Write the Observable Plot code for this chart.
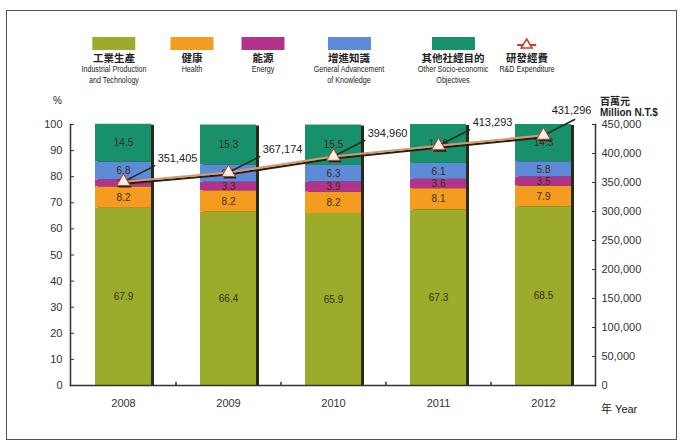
<!DOCTYPE html>
<html><head><meta charset="utf-8">
<script src="https://cdn.jsdelivr.net/npm/d3@7"></script>
<script src="https://cdn.jsdelivr.net/npm/@observablehq/plot@0.6"></script>
<style>
body{margin:0;background:#fff;font-family:"Liberation Sans",Arial,sans-serif;color:#222}
#wrap{position:relative;width:682px;height:442px;overflow:hidden;background:#fff}
#border{position:absolute;left:6px;top:10px;width:669px;height:428px;border:1px solid #555;}
.leg{position:absolute;top:37px;text-align:center;transform:translateX(-50%);}
.sw{width:43px;height:13px;margin:0 auto;display:block}
.zh{font-family:"Noto Sans CJK TC","Noto Sans CJK SC",sans-serif;font-weight:bold;font-size:10.5px;line-height:12px;margin-top:2px;color:#222}
.en{font-family:"Liberation Sans",sans-serif;font-size:8.5px;line-height:11px;color:#222;white-space:nowrap;transform:scaleX(0.84);}
.abs{position:absolute;font-size:10px;color:#222;white-space:nowrap}
#chart{position:absolute;left:0;top:95px}
</style></head>
<body><div id="wrap"><div id="border"></div><div id="legend"></div><div id="chart"></div>
<div class="abs" style="left:53px;top:95px;">%</div>
<div class="abs" style="left:600px;top:93px;font-family:'Noto Sans CJK TC';font-weight:bold;">百萬元</div>
<div class="abs" style="left:600px;top:107px;font-weight:bold;">Million N.T.$</div>
<div class="abs" style="left:601px;top:400px;font-size:11px;"><span style="font-family:'Noto Sans CJK TC'">年</span> Year</div>
</div>
<script>
const years = ["2008","2009","2010","2011","2012"];
const seriesNames = ["Industrial Production and Technology","Health","Energy","General Advancement of Knowledge","Other Socio-economic Objectives"];
const seriesZh = ["工業生產","健康","能源","增進知識","其他社經目的"];
const seriesEn = [["Industrial Production","and Technology"],["Health"],["Energy"],["General Advancement","of Knowledge"],["Other Socio-economic","Objectives"]];
const seriesColors = ["#9dab2c","#f39c1f","#b3338c","#5d8bd8","#17906b"];
const industrial = [67.9,66.4,65.9,67.3,68.5];
const health = [8.2,8.2,8.2,8.1,7.9];
const energy = [2.7,3.3,3.9,3.6,3.5];
const knowledge = [6.8,6.6,6.3,6.1,5.8];
const other = [14.5,15.3,15.5,14.9,14.3];
const expenditure = [351405,367174,394960,413293,431296];
const rdName = ["研發經費","R&D Expenditure"];
const rightTicks = [0,50000,100000,150000,200000,250000,300000,350000,400000,450000];
const leftTicks = [0,10,20,30,40,50,60,70,80,90,100];

const seriesValues = [industrial, health, energy, knowledge, other];
const k = 100/450000;
const rows = years.flatMap((yr,i)=>seriesNames.map((s,j)=>({year:yr, series:s, value:seriesValues[j][i]})));
const totals = years.map((yr,i)=>({year:yr, total:d3.sum(seriesValues, s=>s[i])}));
const lineData = years.map((yr,i)=>({year:yr, exp:expenditure[i]}));

// legend
const legendX = [114,192,263,349,453,527];
const leg = document.getElementById("legend");
seriesNames.forEach((s,j)=>{
  const el = document.createElement("div");
  el.className="leg"; el.style.left=legendX[j]+"px";
  el.innerHTML = `<div class="sw" style="background:${seriesColors[j]}"></div><div class="zh">${seriesZh[j]}</div>` + seriesEn[j].map(t=>`<div class="en">${t}</div>`).join("");
  leg.appendChild(el);
});
{
  const el = document.createElement("div");
  el.className="leg"; el.style.left=legendX[5]+"px";
  el.innerHTML = `<svg class="sw" width="43" height="13"><line x1="12" x2="31" y1="8" y2="8" stroke="#c8402c" stroke-width="2"/><path d="M21.5,2 L27,11 L16,11 Z" fill="#fff" stroke="#c8402c" stroke-width="1.5"/></svg><div class="zh">${rdName[0]}</div><div class="en">${rdName[1]}</div>`;
  leg.appendChild(el);
}

const leader = {draw(ctx, l){ ctx.moveTo(0,0); ctx.lineTo(0,-l); }};

const chart = Plot.plot({
  width: 682, height: 347,
  marginLeft: 70, marginRight: 87, marginTop: 29, marginBottom: 57,
  x: {domain: years, paddingInner: 0.47, paddingOuter: 0.235, axis: null},
  y: {domain: [0,100], axis: null},
  color: {domain: seriesNames, range: seriesColors},
  style: {fontFamily: "Liberation Sans, Arial, sans-serif", fontSize: "11px", color: "#333", background: "transparent"},
  marks: [
    Plot.barY(totals, {x:"year", y:"total", fill:"#2a2a18", dx:3, dy:1}),
    Plot.barY(rows, {x:"year", y:"value", fill:"series", order: seriesNames}),
    Plot.text(rows, Plot.stackY({x:"year", y:"value", z:"series", order: seriesNames, text: d=>d.value.toFixed(1), fill:"#3b2c12", fontSize: 10})),
    Plot.line(lineData, {x:"year", y:d=>d.exp*k, stroke:"#2b1d10", strokeWidth:2, dy:2}),
    Plot.line(lineData, {x:"year", y:d=>d.exp*k, stroke:"#d49a70", strokeWidth:2}),
    Plot.vector(lineData, {x:"year", y:d=>d.exp*k, length:35, rotate:63, anchor:"start", shape: leader, stroke:"#1a2a1a", strokeWidth:1.5}),
    Plot.dot(lineData, {x:"year", y:d=>d.exp*k, symbol:"triangle", r:5, fill:"#222", dx:1.5, dy:2}),
    Plot.dot(lineData, {x:"year", y:d=>d.exp*k, symbol:"triangle", r:5, fill:"#fbeee4", stroke:"#b8402c", strokeWidth:1}),
    Plot.text(lineData, {filter: d=>d.year!==years[years.length-1], x:"year", y:d=>d.exp*k, text:d=>d3.format(",")(d.exp), dx:54, dy:-23, fill:"#222", fontSize:11}),
    Plot.text(lineData, {filter: d=>d.year===years[years.length-1], x:"year", y:d=>d.exp*k, text:d=>d3.format(",")(d.exp), dx:28, dy:-25, fill:"#222", fontSize:11}),
    Plot.axisY({anchor:"left", ticks: leftTicks, tickSize:-4, tickPadding:12, label:null, fontSize:11}),
    Plot.axisY({anchor:"right", ticks: rightTicks.map(v=>v*k), tickFormat: d=>d3.format(",")(Math.round(d/k)), tickSize:-4, tickPadding:10, label:null, fontSize:11}),
    Plot.axisX({tickSize:0, tickPadding:14, label:null, fontSize:11}),
    Plot.ruleX(years.slice(1), {x:d=>d, y1:0, y2:1.2, dx:-52.5, stroke:"#333", strokeWidth:1.5}),
    Plot.frame({anchor:"left", stroke:"#333", strokeWidth:1.5}),
    Plot.frame({anchor:"right", stroke:"#333", strokeWidth:1.5}),
    Plot.frame({anchor:"bottom", stroke:"#333", strokeWidth:1.5})
  ]
});
document.getElementById("chart").appendChild(chart);
</script></body></html>
